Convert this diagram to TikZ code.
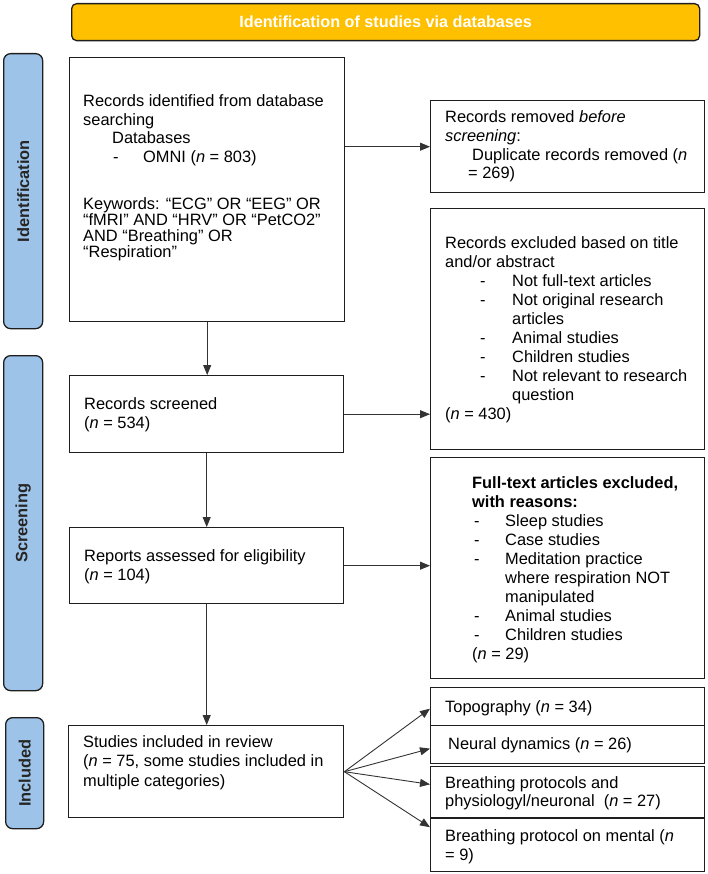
\documentclass[tikz,border=0pt]{standalone}
\usepackage{fontspec}
\setmainfont{Liberation Sans}
\usetikzlibrary{arrows.meta,calc}
\definecolor{barblue}{RGB}{157,195,232}
\definecolor{banner}{RGB}{255,192,0}
\definecolor{edge}{RGB}{30,30,30}
\newcommand{\dashitem}[3]{\hspace*{#1}\makebox[#2][l]{-}#3}
\begin{document}
\begin{tikzpicture}[x=1pt,y=-1pt,
  box/.style={draw=edge,line width=1.4pt,inner sep=0pt,anchor=north west},
  bar/.style={draw=edge,line width=1.3pt,fill=barblue,rounded corners=7pt,inner sep=0pt,anchor=north west},
  bartext/.style={rotate=90,font=\fontsize{16.4}{19}\selectfont\bfseries,text=black!85},
  txt/.style={anchor=base west,inner sep=0pt,align=left,font=\fontsize{16.4}{19}\selectfont},
  arr/.style={draw=black!80,line width=0.9pt,-{Triangle[length=10pt,width=8pt]}}]
\useasboundingbox (0,0) rectangle (707,874);
% banner
\node[draw=edge,line width=1.3pt,fill=banner,rounded corners=5pt,inner sep=0pt,anchor=north west,
  minimum width=628pt,minimum height=37pt] (ban) at (71,3) {};
\node[text=white,font=\fontsize{16.2}{18}\selectfont\bfseries] (bantxt) at (ban.center) {Identification of studies via databases};
% side bars
\node[bar,minimum width=39pt,minimum height=275pt] (barI) at (3,53) {};
\node[bartext] (barItxt) at (barI.center) {Identification};
\node[bar,minimum width=39pt,minimum height=335pt] (barS) at (3,355) {};
\node[bartext] (barStxt) at (barS.center) {Screening};
\node[bar,minimum width=38pt,minimum height=111pt] (barN) at (5,717) {};
\node[bartext] (barNtxt) at (barN.center) {Included};
% left boxes (multi-line text nodes are anchored at the baseline of their last line)
\node[box,minimum width=275pt,minimum height=264pt] (b1) at (69,57) {};
\node[txt,font=\fontsize{16.4}{18.5}\selectfont] (b1ta) at (83,162.5) {Records identified from database\\searching\\\hspace*{29pt}Databases\\\dashitem{30pt}{30pt}{OMNI (\textit{n} = 803)}};
\node[txt,font=\fontsize{16.4}{16}\selectfont] (b1tb) at (83,258) {Keywords: “ECG” OR “EEG” OR\\“fMRI” AND “HRV” OR “PetCO2”\\AND “Breathing” OR\\“Respiration”};
\node[box,minimum width=274pt,minimum height=77pt] (scr) at (69,375) {};
\node[txt] (scrt) at (84,428) {Records screened\\(\textit{n} = 534)};
\node[box,minimum width=274pt,minimum height=76pt] (rep) at (69,527) {};
\node[txt] (rept) at (84,580) {Reports assessed for eligibility\\(\textit{n} = 104)};
\node[box,minimum width=275pt,minimum height=92pt] (stu) at (68,725) {};
\node[txt,font=\fontsize{16.4}{19.5}\selectfont] (stut) at (83,786) {Studies included in review\\(\textit{n} = 75, some studies included in\\multiple categories)};
% right boxes
\node[box,minimum width=274pt,minimum height=92pt] (rem) at (430,100) {};
\node[txt,font=\fontsize{16.4}{18.7}\selectfont] (remt) at (445,179) {Records removed \textit{before}\\\textit{screening}:\\\hspace*{27pt}Duplicate records removed (\textit{n}\\\hspace*{23pt}= 269)};
\node[box,minimum width=274pt,minimum height=241pt] (exc) at (430,208) {};
\node[txt] (exct) at (445,419) {Records excluded based on title\\and/or abstract\\\dashitem{35pt}{32pt}{Not full-text articles}\\\dashitem{35pt}{32pt}{Not original research}\\\hspace*{67pt}articles\\\dashitem{35pt}{32pt}{Animal studies}\\\dashitem{35pt}{32pt}{Children studies}\\\dashitem{35pt}{32pt}{Not relevant to research}\\\hspace*{67pt}question\\(\textit{n} = 430)};
\node[box,minimum width=274pt,minimum height=221pt] (ful) at (430,457) {};
\node[txt] (fult) at (472,659) {\textbf{Full-text articles excluded,}\\\textbf{with reasons:}\\\dashitem{2pt}{31pt}{Sleep studies}\\\dashitem{2pt}{31pt}{Case studies}\\\dashitem{2pt}{31pt}{Meditation practice}\\\hspace*{33pt}where respiration NOT\\\hspace*{33pt}manipulated\\\dashitem{2pt}{31pt}{Animal studies}\\\dashitem{2pt}{31pt}{Children studies}\\(\textit{n} = 29)};
\node[box,minimum width=274pt,minimum height=38pt] (top) at (430,687) {};
\node[txt] (topt) at (445,712) {Topography (\textit{n} = 34)};
\node[box,minimum width=274pt,minimum height=38pt] (neu) at (430,725) {};
\node[txt] (neut) at (448,749) {Neural dynamics (\textit{n} = 26)};
\node[box,minimum width=274pt,minimum height=51pt] (bre) at (430,766) {};
\node[txt,font=\fontsize{16.4}{18}\selectfont] (bret) at (445,806) {Breathing protocols and\\physiologyl/neuronal\ \ (\textit{n} = 27)};
\node[box,minimum width=274pt,minimum height=53pt] (men) at (430,818) {};
\node[txt] (ment) at (445,860) {Breathing protocol on mental (\textit{n}\\= 9)};
% connectors
\draw[arr] (b1.east |- rem.west) -- (rem.west);
\draw[arr] (b1.south) -- (b1.south |- scr.north);
\draw[arr] (scr.east) -- (scr.east -| exc.west);
\draw[arr] (scr.south) -- (rep.north);
\draw[arr] (rep.east) -- (rep.east -| ful.west);
\draw[arr] (rep.south) -- (rep.south |- stu.north);
\draw[arr] (stu.east) -- ($(top.north west)!0.55!(top.south west)$);
\draw[arr] (stu.east) -- ($(neu.north west)!0.6!(neu.south west)$);
\draw[arr] (stu.east) -- ($(bre.north west)!0.35!(bre.south west)$);
\draw[arr] (stu.east) -- ($(men.north west)!0.17!(men.south west)$);
\end{tikzpicture}
\end{document}
